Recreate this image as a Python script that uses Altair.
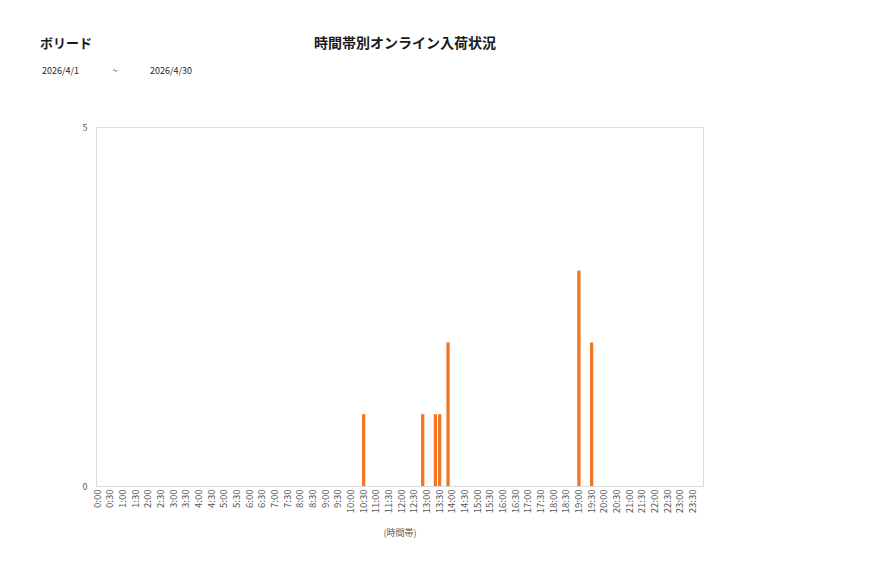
import altair as alt
import pandas as pd

# ---- data ----
bar_times = ["10:30", "12:50", "13:20", "13:30", "13:50", "19:00", "19:30"]
bar_counts = [1, 1, 1, 1, 2, 3, 2]

# all 10-minute slots of the day (category axis) and the half-hour tick labels
slots = [f"{h}:{m:02d}" for h in range(24) for m in range(0, 60, 10)]
tick_labels = [f"{h}:{m:02d}" for h in range(24) for m in (0, 30)]

store_name = "ボリード"
chart_title = "時間帯別オンライン入荷状況"
date_from = "2026/4/1"
date_sep = "~"
date_to = "2026/4/30"
x_title = "(時間帯)"

counts = dict(zip(bar_times, bar_counts))
df = pd.DataFrame({"slot": slots, "count": [counts.get(s, 0) for s in slots]})

FONT = "Noto Sans CJK JP"
GREY = "#595959"

bars = alt.Chart(df).mark_bar(color="#F27524").encode(
    x=alt.X(
        "slot:N",
        sort=slots,
        scale=alt.Scale(domain=slots, paddingInner=0.22, paddingOuter=0),
        axis=alt.Axis(
            values=tick_labels,
            labelAngle=-90,
            labelFontSize=9.5,
            labelColor=GREY,
            labelFont=FONT,
            labelPadding=3,
            ticks=False,
            domain=False,
            title=x_title,
            titleFontSize=9,
            titleFont=FONT,
            titleColor=GREY,
            titleFontWeight="normal",
            titlePadding=16,
        ),
    ),
    y=alt.Y(
        "count:Q",
        scale=alt.Scale(domain=[0, 5]),
        axis=alt.Axis(
            values=[0, 5],
            grid=False,
            ticks=False,
            domain=False,
            labelFontSize=9,
            labelColor=GREY,
            labelFont=FONT,
            labelPadding=9,
            title=None,
        ),
    ),
)

one = pd.DataFrame({"k": [0]})

def txt(text, x, y, size, align="left", weight="normal", color="#000000"):
    return alt.Chart(one).mark_text(
        text=text, align=align, baseline="middle", fontSize=size,
        font=FONT, fontWeight=weight, color=color,
    ).encode(x=alt.value(x), y=alt.value(y))

layers = alt.layer(
    bars,
    txt(chart_title, 309, -83, 14, align="center", weight="bold", color="#1a1a1a"),
    txt(store_name, -56, -83, 13, weight="bold", color="#1a1a1a"),
    txt(date_from, -54, -56, 9, color="#262626"),
    txt(date_sep, 19, -56, 9, align="center", color="#262626"),
    txt(date_to, 54, -56, 9, color="#262626"),
).properties(
    width=607,
    height=359,
    autosize=alt.AutoSizeParams(type="none"),
    padding={"left": 88, "top": 119, "right": 160, "bottom": 80},
).configure_view(
    stroke="#D9D9D9", strokeWidth=1
).configure(background="white")

chart = layers
chart.save("out.html", embed_options={"renderer": "svg", "actions": False})
